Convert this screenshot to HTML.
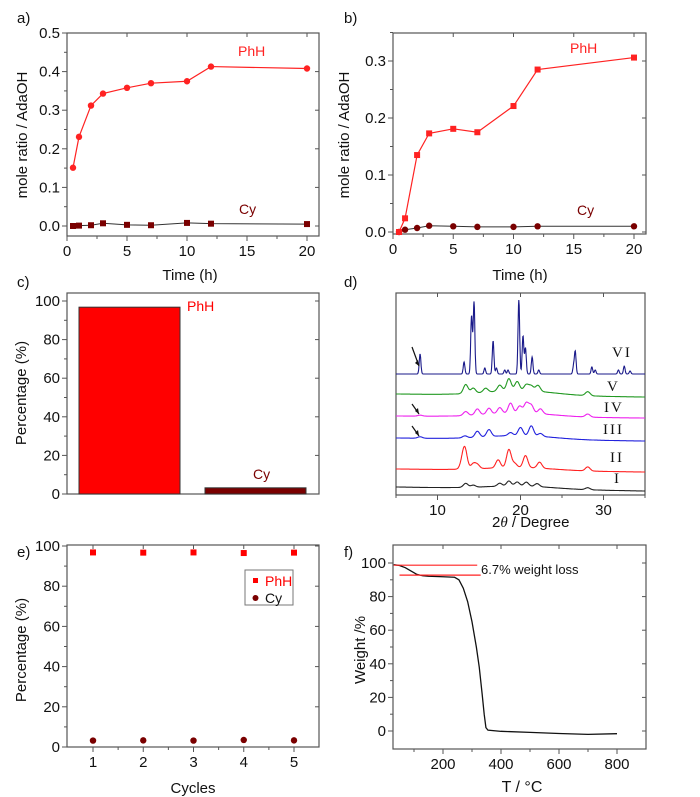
<!DOCTYPE html>
<html><head><meta charset="utf-8"><style>
body{margin:0;background:#fff;}
svg{display:block;font-family:"Liberation Sans",sans-serif;}
</style></head><body>
<svg id="fig" width="700" height="797" viewBox="0 0 700 797"></svg>
<script>
// ---- data ----
const aTime=[0.5,1,2,3,5,7,10,12,20];
const aPhH=[0.151,0.231,0.312,0.343,0.358,0.37,0.375,0.413,0.408];
const aCy=[0.0,0.001,0.002,0.007,0.003,0.002,0.008,0.006,0.005];
const bTime=[0.5,1,2,3,5,7,10,12,20];
const bPhH=[0.0,0.024,0.135,0.173,0.181,0.175,0.221,0.285,0.306];
const bCy=[0.0,0.004,0.007,0.011,0.01,0.009,0.009,0.01,0.01];
const cCats=["PhH","Cy"];
const cVals=[96.8,3.2];
const eCycles=[1,2,3,4,5];
const ePhH=[96.8,96.7,96.8,96.5,96.7];
const eCy=[3.2,3.3,3.2,3.5,3.3];
const fT=[30,50,70,90,110,130,150,200,240,255,270,285,300,315,325,335,342,348,355,400,500,600,700,800];
const fW=[99,98.5,97.2,95.2,93.2,92.4,92.1,91.8,91.5,90,85,77,65,50,38,22,10,2,0.5,-0.2,-0.8,-1.5,-2,-1.6];
const dLabels=["I","II","III","IV","V","VI"];
const dColors=["#222","#f22","#22d","#e2e","#292","#1a1a8a"];
const dBase=[487,469,438,416,394,374];
const dDrift=[4,3,3,2,3,0];
const dPeaksVI=[[7.9,20],[13.2,12],[14.1,58],[14.4,72],[15.7,6],[16.7,33],[17.1,6],[18.1,4],[18.5,4],[19.8,74],[20.3,38],[20.6,26],[21.4,17],[22.2,4],[26.4,8],[26.6,22],[28.6,7],[29,4],[31.8,4],[32.5,8],[33.2,3]];
const dPeaksV=[[13.4,9],[14.3,5],[15.8,4],[17.5,6],[18.6,12],[19.6,9],[20.7,6],[21.3,5],[22.1,6],[28.1,4],[20,5,4]];
const dPeaksIV=[[7.9,1],[13.4,4],[14.8,6],[16.2,6],[17.5,6],[18.8,10],[19.9,7],[20.7,10],[21.3,8],[22.4,5],[28.1,3],[20,4,4]];
const dPeaksIII=[[7.9,1.5],[13.3,2],[14.8,6],[16.2,7],[18.8,3],[20,8],[21.3,10],[22.4,3],[20,4,4]];
const dPeaksII=[[13.0,6],[13.3,19],[14.3,5],[14.8,4],[17.3,8],[18.6,18],[19.3,4],[20.6,12],[22.3,6],[28.1,4],[20,3,4]];
const dPeaksI=[[13.4,4],[14.3,2],[17.5,3],[18.6,5],[19.6,4],[20.7,4],[22,3],[28.1,2],[20,3,4]];
const dPeaks=[dPeaksI,dPeaksII,dPeaksIII,dPeaksIV,dPeaksV,dPeaksVI];

const NS="http://www.w3.org/2000/svg";
const svg=document.getElementById("fig");
function mk(tag,attrs,parent,text){const e=document.createElementNS(NS,tag);for(const k in attrs)e.setAttribute(k,attrs[k]);if(text!==undefined)e.textContent=text;(parent||svg).appendChild(e);return e;}
function lin(d0,d1,r0,r1){return v=>r0+(v-d0)*(r1-r0)/(d1-d0);}

function axes(g,x0,x1,y0,y1,xs,ys,xt,yt,xminor,yminor,xfmt,yfmt,showY){
  const fr=mk("rect",{x:x0,y:y0,width:x1-x0,height:y1-y0,fill:"none",stroke:"#555","stroke-width":1.2},g);
  
  xt.forEach(v=>{const X=xs(v);mk("line",{x1:X,x2:X,y1:y1,y2:y1+5,stroke:"#555"},g);mk("line",{x1:X,x2:X,y1:y0,y2:y0+4,stroke:"#555"},g);
    const t=mk("text",{x:X,y:y1+20,"font-size":15,"text-anchor":"middle",fill:"#111"},g,xfmt(v));});
  xminor.forEach(v=>{const X=xs(v);mk("line",{x1:X,x2:X,y1:y1,y2:y1+3,stroke:"#555"},g);});
  if(showY!==false){
  yt.forEach(v=>{const Y=ys(v);mk("line",{x1:x0-5,x2:x0,y1:Y,y2:Y,stroke:"#555"},g);mk("line",{x1:x1-4,x2:x1,y1:Y,y2:Y,stroke:"#555"},g);
    const t=mk("text",{x:x0-7,y:Y+5,"font-size":15,"text-anchor":"end",fill:"#111"},g,yfmt(v));});
  yminor.forEach(v=>{const Y=ys(v);mk("line",{x1:x0-3,x2:x0,y1:Y,y2:Y,stroke:"#555"},g);});}
}
function label(txt,x,y,opts,name,g){const t=mk("text",Object.assign({x:x,y:y,"font-size":14,fill:"#111"},opts||{}),g||svg,txt);return t;}
function ylabel(txt,x,y,name){return label(txt,x,y,{transform:`rotate(-90 ${x} ${y})`,"text-anchor":"middle","font-size":15},name);}
function series(g,xs,ys,X,Y,color,marker,line,name){
  if(line){const p=mk("polyline",{points:X.map((v,i)=>xs(v)+","+ys(Y[i])).join(" "),fill:"none",stroke:color,"stroke-width":1.2},g);}
  X.forEach((v,i)=>{let m;if(marker==="c")m=mk("circle",{cx:xs(v),cy:ys(Y[i]),r:3.2,fill:color},g);else m=mk("rect",{x:xs(v)-3,y:ys(Y[i])-3,width:6,height:6,fill:color},g);
    });
}
const range=(a,b,s)=>{const r=[];for(let v=a;v<=b+1e-9;v+=s)r.push(+v.toFixed(4));return r;};

// ---- panel a ----
{const g=mk("g",{});
 const xs=lin(0,20,67,307),ys=lin(0,0.5,226,33);
 axes(g,67,319,33,236,xs,ys,[0,5,10,15,20],[0,0.1,0.2,0.3,0.4,0.5],range(2.5,17.5,5),range(0.05,0.45,0.1),v=>v,v=>v.toFixed(1));
 series(g,xs,ys,aTime,aPhH,"#f22","c",true,"phh");
 mk("polyline",{points:aTime.map((v,i)=>xs(v)+","+ys(aCy[i])).join(" "),fill:"none",stroke:"#333","stroke-width":1},g);
 series(g,xs,ys,aTime,aCy,"#7a0000","s",false,"cy");
 label("PhH",238,56,{fill:"#f22","font-size":14},"phh-label",g);label("Cy",239,214,{fill:"#7a0000","font-size":14},"cy-label",g);
 label("a)",17,23,{"font-size":15},"panel-label-a",g);
 label("Time (h)",190,280,{"text-anchor":"middle","font-size":15},"x-axis-title",g);
 ylabel("mole ratio / AdaOH",27,135,"y-axis-title");}
// ---- panel b ----
{const g=mk("g",{});
 const xs=lin(0,20,393,634),ys=lin(0,0.3,232,61);
 axes(g,393,646,33,234,xs,ys,[0,5,10,15,20],[0,0.1,0.2,0.3],range(2.5,17.5,5),range(0.05,0.35,0.1),v=>v,v=>v.toFixed(1));
 mk("polyline",{points:bTime.map((v,i)=>xs(v)+","+ys(bCy[i])).join(" "),fill:"none",stroke:"#333","stroke-width":1},g);
 series(g,xs,ys,bTime,bCy,"#7a0000","c",false,"cy");
 series(g,xs,ys,bTime,bPhH,"#f22","s",true,"phh");
 label("PhH",570,53,{fill:"#f22","font-size":14},"phh-label",g);label("Cy",577,215,{fill:"#7a0000","font-size":14},"cy-label",g);
 label("b)",344,23,{"font-size":15},"panel-label-b",g);
 label("Time (h)",520,280,{"text-anchor":"middle","font-size":15},"x-axis-title",g);
 ylabel("mole ratio / AdaOH",349,135,"y-axis-title");}
// ---- panel c ----
{const g=mk("g",{});
 const ys=lin(0,100,494,301);
 axes(g,67,319,293,494,v=>v,ys,[],[0,20,40,60,80,100],[],range(10,90,20),v=>v,v=>v);
 const colors=["#f00","#7a0000"];const bx=[79,205];
 cVals.forEach((v,i)=>{const r=mk("rect",{x:bx[i],y:ys(v),width:101,height:494-ys(v),fill:colors[i],stroke:"#333","stroke-width":1},g);});
 label("PhH",187,311,{fill:"#f00","font-size":14},"phh-label",g);label("Cy",253,479,{fill:"#7a0000","font-size":14},"cy-label",g);
 label("c)",17,287,{"font-size":15},"panel-label-c",g);
 ylabel("Percentage (%)",26,393,"y-axis-title");}
// ---- panel d ----
{const g=mk("g",{});
 const xs=lin(5,35,396,645);
 axes(g,396,645,293,495,xs,null,[10,20,30],[],range(5,35,5).filter(v=>v%10),[],v=>v,v=>v,false);
 dPeaks.forEach((pk,si)=>{const pts=[];
   for(let t=5;t<=35;t+=0.04){let h=0;pk.forEach(p=>{const w=p[2]||(si===5?0.1:0.28);h+=p[1]*Math.exp(-((t-p[0])**2)/(2*w*w));});
     const base=dBase[si]+dDrift[si]*(t-5)/30;pts.push(xs(t).toFixed(1)+","+(base-h).toFixed(1));}
   const p=mk("polyline",{points:pts.join(" "),fill:"none",stroke:dColors[si],"stroke-width":1.1},g);});
 const lp=[[614,483],[610,462],[603,434],[604,412],[607,391],[612,357]];
 dLabels.forEach((l,i)=>label(l,lp[i][0],lp[i][1],{"font-family":"Liberation Serif,serif","font-size":15,"letter-spacing":"2"},"trace-label-"+l.toLowerCase(),g));
 [[412,347,419,366],[412,404,419,414],[412,426,419,436]].forEach(a=>{const l=mk("line",{x1:a[0],y1:a[1],x2:a[2],y2:a[3],stroke:"#111","stroke-width":1.2},g);
   mk("polygon",{points:`${a[2]},${a[3]} ${a[2]-4},${a[3]-3} ${a[2]-1},${a[3]-6}`,fill:"#111"},g);});
 label("d)",344,287,{"font-size":15},"panel-label-d",g);
 const t=label("2",492,527,{"font-size":15},"x-axis-title",g);
 mk("tspan",{"font-style":"italic","font-family":"Liberation Serif,serif"},t,"θ");mk("tspan",{},t," / Degree");}
// ---- panel e ----
{const g=mk("g",{});
 const xs=lin(1,5,93,294),ys=lin(0,100,747,546);
 axes(g,67,319,545,747,xs,ys,[1,2,3,4,5],[0,20,40,60,80,100],[1.5,2.5,3.5,4.5],range(10,90,20),v=>v,v=>v);
 series(g,xs,ys,eCycles,ePhH,"#f00","s",false,"phh");
 series(g,xs,ys,eCycles,eCy,"#7a0000","c",false,"cy");
 const lg=mk("g",{},g);
 mk("rect",{x:245,y:570,width:48,height:35,fill:"#fff",stroke:"#777"},lg);
 mk("rect",{x:253,y:578,width:5,height:5,fill:"#f00"},lg);label("PhH",265,586,{fill:"#f00","font-size":14},"legend-entry-phh",lg);
 mk("circle",{cx:255.5,cy:598,r:3,fill:"#7a0000"},lg);label("Cy",265,603,{"font-size":14},"legend-entry-cy",lg);
 label("e)",17,557,{"font-size":15},"panel-label-e",g);
 label("Cycles",193,793,{"text-anchor":"middle","font-size":15},"x-axis-title",g);
 ylabel("Percentage (%)",26,650,"y-axis-title");}
// ---- panel f ----
{const g=mk("g",{});
 const xs=lin(200,800,443,617),ys=lin(0,100,731,563);
 axes(g,393,646,545,749,xs,ys,[200,400,600,800],[0,20,40,60,80,100],[100,300,500,700],range(10,90,20),v=>v,v=>v);
 const p=mk("polyline",{points:fT.map((v,i)=>xs(v)+","+ys(fW[i])).join(" "),fill:"none",stroke:"#111","stroke-width":1.3},g);
 mk("line",{x1:xs(30),x2:xs(318),y1:ys(98.7),y2:ys(98.7),stroke:"#f22","stroke-width":1.2},g);
 mk("line",{x1:xs(50),x2:xs(330),y1:ys(92.8),y2:ys(92.8),stroke:"#f22","stroke-width":1.2},g);
 label("6.7% weight loss",481,574,{"font-size":13},"annotation",g);
 label("f)",344,557,{"font-size":15},"panel-label-f",g);
 label("T / °C",522,792,{"text-anchor":"middle","font-size":16},"x-axis-title",g);
 ylabel("Weight /%",365,650,"y-axis-title");}
</script>
</body></html>
